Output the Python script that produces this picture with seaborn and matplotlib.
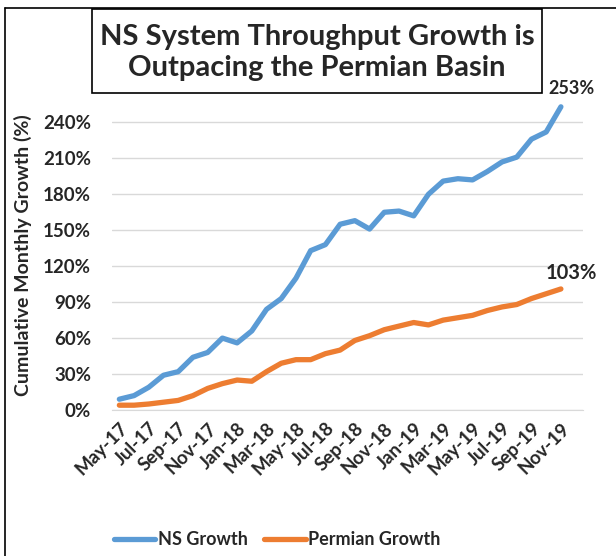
import numpy as np
import pandas as pd
import matplotlib.pyplot as plt
from matplotlib.lines import Line2D
from matplotlib.patches import Rectangle
import seaborn as sns

# monthly series, May-17 .. Nov-19 (cumulative growth, %)
months = pd.date_range('2017-05-01', '2019-11-01', freq='MS').strftime('%b-%y').tolist()
ns_growth = [9, 12, 19, 29, 32, 44, 48, 60, 56, 66, 84, 93, 110, 133, 138, 155,
             158, 151, 165, 166, 162, 180, 191, 193, 192, 199, 207, 211, 226, 232, 253]
permian_growth = [4, 4, 5, 6.5, 8, 12, 18, 22, 25, 24, 32, 39, 42, 42, 47, 50,
                  58, 62, 67, 70, 73, 71, 75, 77, 79, 83, 86, 88, 93, 97, 101]
tick_labels = ['May-17', 'Jul-17', 'Sep-17', 'Nov-17', 'Jan-18', 'Mar-18', 'May-18', 'Jul-18',
               'Sep-18', 'Nov-18', 'Jan-19', 'Mar-19', 'May-19', 'Jul-19', 'Sep-19', 'Nov-19']
series_names = ['NS Growth', 'Permian Growth']
colors = ['#5B9BD5', '#ED7D31']

df = pd.DataFrame({
    'pos': list(range(len(months))) * 2,
    'month': months * 2,
    'growth': ns_growth + permian_growth,
    'serie': [series_names[0]] * len(months) + [series_names[1]] * len(months),
})

sns.set_style('white')
plt.rcParams['font.family'] = ['Lato', 'DejaVu Sans']
plt.rcParams['font.weight'] = 'bold'

fig = plt.figure(figsize=(6.16, 5.56), dpi=100)
ax = fig.add_axes([0.1818, 0.2626, 0.7646, 0.5647])

sns.lineplot(data=df, x='pos', y='growth', hue='serie', palette=colors,
             linewidth=3.8, ax=ax, legend=False, clip_on=False)

ax.set_xlim(-0.5, 31.5)
ax.set_ylim(0, 262)
ax.set_xticks(np.arange(0, 31, 2))
ax.set_xticklabels(tick_labels, rotation=45, ha='right', rotation_mode='anchor',
                   fontsize=13.5, fontweight='bold')
ax.set_xticks(np.arange(-0.5, 32, 2), minor=True)
ax.tick_params(axis='x', which='major', length=0, pad=7)
ax.tick_params(axis='x', which='minor', length=5, color='#d9d9d9', width=1)
ax.set_yticks(np.arange(0, 241, 30))
ax.set_yticklabels([f'{v}%' for v in range(0, 241, 30)], fontsize=13.5, fontweight='bold')
ax.tick_params(axis='y', length=0, pad=15)
ax.grid(axis='y', color='#d9d9d9', linewidth=1)
ax.grid(axis='x', visible=False)
ax.set_xlabel('')
ax.set_ylabel('')
for s in ['left', 'right', 'top']:
    ax.spines[s].set_visible(False)
ax.spines['bottom'].set_color('#d9d9d9')

ax.text(30.7, 268, '253%', ha='center', va='center', fontsize=13, fontweight='bold')
ax.text(30.7, 114, '103%', ha='center', va='center', fontsize=14.5, fontweight='bold')

fig.text(0.038, 0.541, 'Cumulative Monthly Growth (%)', rotation=90, ha='center', va='center',
         fontsize=14, fontweight='bold')

# title box
fig.patches.append(Rectangle((0.149, 0.8327), 0.7305, 0.151, transform=fig.transFigure,
                             facecolor='white', edgecolor='black', linewidth=1.2))
fig.text(0.515, 0.906, 'NS System Throughput Growth is\nOutpacing the Permian Basin',
         ha='center', va='center', fontsize=21, fontweight='bold', linespacing=1.25)

# outer frame (top and left only)
fig.add_artist(Line2D([5 / 616, 1], [0.9856, 0.9856], color='black', linewidth=1.2))
fig.add_artist(Line2D([5 / 616, 5 / 616], [0, 0.9856], color='black', linewidth=1.2))

handles = [Line2D([], [], color=c, linewidth=3.8) for c in colors]
fig.legend(handles, series_names, loc='center', bbox_to_anchor=(0.45, 0.029), ncol=2,
           frameon=False, handlelength=2.3, handletextpad=0.15, columnspacing=0.9,
           prop={'weight': 'bold', 'size': 13})

fig.savefig('out.png', dpi=100)
